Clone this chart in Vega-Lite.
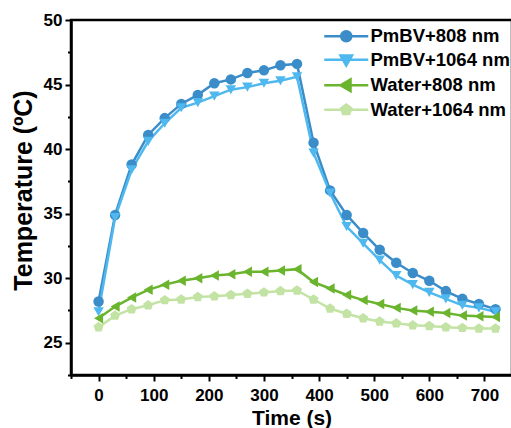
{
  "$schema": "https://vega.github.io/schema/vega-lite/v6.json",
  "autosize": {"type": "none"},
  "padding": {"left": 71, "top": 20, "right": 0, "bottom": 53},
  "width": 441,
  "height": 355,
  "background": "white",
  "config": {
    "view": {"stroke": "black", "strokeWidth": 2.5},
    "axis": {
      "grid": false,
      "domainColor": "black",
      "domainWidth": 2.5,
      "tickColor": "black",
      "tickWidth": 2,
      "labelColor": "black",
      "labelFont": "Liberation Sans",
      "labelFontWeight": "bold",
      "labelFontSize": 17,
      "titleFont": "Liberation Sans",
      "titleFontWeight": "bold",
      "titleColor": "black",
      "labelOverlap": false,
      "labelFlush": false
    }
  },
  "data": {
    "values": [
      {"t": 0, "T": 28.2, "s": "PmBV+808 nm"},
      {"t": 30, "T": 34.9, "s": "PmBV+808 nm"},
      {"t": 60, "T": 38.8, "s": "PmBV+808 nm"},
      {"t": 90, "T": 41.1, "s": "PmBV+808 nm"},
      {"t": 120, "T": 42.4, "s": "PmBV+808 nm"},
      {"t": 150, "T": 43.5, "s": "PmBV+808 nm"},
      {"t": 180, "T": 44.2, "s": "PmBV+808 nm"},
      {"t": 210, "T": 45.1, "s": "PmBV+808 nm"},
      {"t": 240, "T": 45.4, "s": "PmBV+808 nm"},
      {"t": 270, "T": 45.9, "s": "PmBV+808 nm"},
      {"t": 300, "T": 46.1, "s": "PmBV+808 nm"},
      {"t": 330, "T": 46.5, "s": "PmBV+808 nm"},
      {"t": 360, "T": 46.6, "s": "PmBV+808 nm"},
      {"t": 390, "T": 40.5, "s": "PmBV+808 nm"},
      {"t": 420, "T": 36.8, "s": "PmBV+808 nm"},
      {"t": 450, "T": 34.9, "s": "PmBV+808 nm"},
      {"t": 480, "T": 33.5, "s": "PmBV+808 nm"},
      {"t": 510, "T": 32.2, "s": "PmBV+808 nm"},
      {"t": 540, "T": 31.2, "s": "PmBV+808 nm"},
      {"t": 570, "T": 30.4, "s": "PmBV+808 nm"},
      {"t": 600, "T": 29.8, "s": "PmBV+808 nm"},
      {"t": 630, "T": 29.0, "s": "PmBV+808 nm"},
      {"t": 660, "T": 28.4, "s": "PmBV+808 nm"},
      {"t": 690, "T": 28.0, "s": "PmBV+808 nm"},
      {"t": 720, "T": 27.6, "s": "PmBV+808 nm"},
      {"t": 0, "T": 27.4, "s": "PmBV+1064 nm"},
      {"t": 30, "T": 34.7, "s": "PmBV+1064 nm"},
      {"t": 60, "T": 38.4, "s": "PmBV+1064 nm"},
      {"t": 90, "T": 40.6, "s": "PmBV+1064 nm"},
      {"t": 120, "T": 42.0, "s": "PmBV+1064 nm"},
      {"t": 150, "T": 43.2, "s": "PmBV+1064 nm"},
      {"t": 180, "T": 43.6, "s": "PmBV+1064 nm"},
      {"t": 210, "T": 44.1, "s": "PmBV+1064 nm"},
      {"t": 240, "T": 44.6, "s": "PmBV+1064 nm"},
      {"t": 270, "T": 44.8, "s": "PmBV+1064 nm"},
      {"t": 300, "T": 45.1, "s": "PmBV+1064 nm"},
      {"t": 330, "T": 45.3, "s": "PmBV+1064 nm"},
      {"t": 360, "T": 45.6, "s": "PmBV+1064 nm"},
      {"t": 390, "T": 39.7, "s": "PmBV+1064 nm"},
      {"t": 420, "T": 36.6, "s": "PmBV+1064 nm"},
      {"t": 450, "T": 34.0, "s": "PmBV+1064 nm"},
      {"t": 480, "T": 32.7, "s": "PmBV+1064 nm"},
      {"t": 510, "T": 31.4, "s": "PmBV+1064 nm"},
      {"t": 540, "T": 30.2, "s": "PmBV+1064 nm"},
      {"t": 570, "T": 29.5, "s": "PmBV+1064 nm"},
      {"t": 600, "T": 28.9, "s": "PmBV+1064 nm"},
      {"t": 630, "T": 28.4, "s": "PmBV+1064 nm"},
      {"t": 660, "T": 27.9, "s": "PmBV+1064 nm"},
      {"t": 690, "T": 27.7, "s": "PmBV+1064 nm"},
      {"t": 720, "T": 27.4, "s": "PmBV+1064 nm"},
      {"t": 0, "T": 26.9, "s": "Water+808 nm"},
      {"t": 30, "T": 27.8, "s": "Water+808 nm"},
      {"t": 60, "T": 28.5, "s": "Water+808 nm"},
      {"t": 90, "T": 29.1, "s": "Water+808 nm"},
      {"t": 120, "T": 29.5, "s": "Water+808 nm"},
      {"t": 150, "T": 29.8, "s": "Water+808 nm"},
      {"t": 180, "T": 30.0, "s": "Water+808 nm"},
      {"t": 210, "T": 30.2, "s": "Water+808 nm"},
      {"t": 240, "T": 30.3, "s": "Water+808 nm"},
      {"t": 270, "T": 30.5, "s": "Water+808 nm"},
      {"t": 300, "T": 30.5, "s": "Water+808 nm"},
      {"t": 330, "T": 30.6, "s": "Water+808 nm"},
      {"t": 360, "T": 30.7, "s": "Water+808 nm"},
      {"t": 390, "T": 29.7, "s": "Water+808 nm"},
      {"t": 420, "T": 29.2, "s": "Water+808 nm"},
      {"t": 450, "T": 28.7, "s": "Water+808 nm"},
      {"t": 480, "T": 28.3, "s": "Water+808 nm"},
      {"t": 510, "T": 28.0, "s": "Water+808 nm"},
      {"t": 540, "T": 27.7, "s": "Water+808 nm"},
      {"t": 570, "T": 27.5, "s": "Water+808 nm"},
      {"t": 600, "T": 27.4, "s": "Water+808 nm"},
      {"t": 630, "T": 27.3, "s": "Water+808 nm"},
      {"t": 660, "T": 27.1, "s": "Water+808 nm"},
      {"t": 690, "T": 27.05, "s": "Water+808 nm"},
      {"t": 720, "T": 27.0, "s": "Water+808 nm"},
      {"t": 0, "T": 26.2, "s": "Water+1064 nm"},
      {"t": 30, "T": 27.1, "s": "Water+1064 nm"},
      {"t": 60, "T": 27.6, "s": "Water+1064 nm"},
      {"t": 90, "T": 27.9, "s": "Water+1064 nm"},
      {"t": 120, "T": 28.3, "s": "Water+1064 nm"},
      {"t": 150, "T": 28.35, "s": "Water+1064 nm"},
      {"t": 180, "T": 28.55, "s": "Water+1064 nm"},
      {"t": 210, "T": 28.6, "s": "Water+1064 nm"},
      {"t": 240, "T": 28.7, "s": "Water+1064 nm"},
      {"t": 270, "T": 28.8, "s": "Water+1064 nm"},
      {"t": 300, "T": 28.9, "s": "Water+1064 nm"},
      {"t": 330, "T": 29.0, "s": "Water+1064 nm"},
      {"t": 360, "T": 29.05, "s": "Water+1064 nm"},
      {"t": 390, "T": 28.35, "s": "Water+1064 nm"},
      {"t": 420, "T": 27.65, "s": "Water+1064 nm"},
      {"t": 450, "T": 27.25, "s": "Water+1064 nm"},
      {"t": 480, "T": 26.9, "s": "Water+1064 nm"},
      {"t": 510, "T": 26.65, "s": "Water+1064 nm"},
      {"t": 540, "T": 26.5, "s": "Water+1064 nm"},
      {"t": 570, "T": 26.35, "s": "Water+1064 nm"},
      {"t": 600, "T": 26.3, "s": "Water+1064 nm"},
      {"t": 630, "T": 26.2, "s": "Water+1064 nm"},
      {"t": 660, "T": 26.15, "s": "Water+1064 nm"},
      {"t": 690, "T": 26.1, "s": "Water+1064 nm"},
      {"t": 720, "T": 26.1, "s": "Water+1064 nm"}
    ]
  },
  "encoding": {
    "x": {
      "field": "t",
      "type": "quantitative",
      "scale": {"domain": [-50, 750], "nice": false, "zero": false},
      "axis": {
        "title": "Time (s)",
        "titleFontSize": 21,
        "titleBaseline": "alphabetic",
        "titleY": 49,
        "values": [-50, 0, 50, 100, 150, 200, 250, 300, 350, 400, 450, 500, 550, 600, 650, 700, 750],
        "labelExpr": "datum.value % 100 === 0 ? format(datum.value, 'd') : ''",
        "tickSize": {"condition": {"test": "datum.value % 100 === 0", "value": 6}, "value": 3.5},
        "labelPadding": 6
      }
    },
    "y": {
      "field": "T",
      "type": "quantitative",
      "scale": {"domain": [22.5, 50], "nice": false, "zero": false},
      "axis": {
        "title": "Temperature (ºC)",
        "titleFontSize": 25,
        "titleBaseline": "alphabetic",
        "titleX": -40,
        "titleY": 170,
        "values": [22.5, 25, 27.5, 30, 32.5, 35, 37.5, 40, 42.5, 45, 47.5, 50],
        "labelExpr": "datum.value % 5 === 0 ? format(datum.value, 'd') : ''",
        "tickSize": {"condition": {"test": "datum.value % 5 === 0", "value": 6}, "value": 3.5},
        "labelPadding": 3
      }
    },
    "color": {
      "field": "s",
      "type": "nominal",
      "sort": ["PmBV+808 nm", "PmBV+1064 nm", "Water+808 nm", "Water+1064 nm"],
      "scale": {
        "domain": ["PmBV+808 nm", "PmBV+1064 nm", "Water+808 nm", "Water+1064 nm"],
        "range": ["#3a8dc8", "#4fb8ef", "#6ab42e", "#c2e3a4"]
      },
      "legend": {
        "title": null,
        "orient": "none",
        "legendX": 266,
        "legendY": 7,
        "padding": 0,
        "labelFont": "Liberation Sans",
        "labelFontWeight": "bold",
        "labelFontSize": 18.5,
        "labelColor": "black",
        "labelOffset": 15,
        "rowPadding": 3.5,
        "symbolSize": 100,
        "symbolStrokeWidth": 2.5,
        "encode": {
          "symbols": {
            "update": {
              "shape": {"signal": "datum.value === 'PmBV+808 nm' ? 'M-4.4,0H4.4M1,0A1,1,0,1,1,-1,0A1,1,0,1,1,1,0Z' : datum.value === 'PmBV+1064 nm' ? 'M-4.4,0H4.4M-1.15,-0.85L1.15,-0.85L0,1.15Z' : datum.value === 'Water+808 nm' ? 'M-4.4,0H4.4M-1.15,0L0.85,-1.15L0.85,1.15Z' : 'M-4.4,0H4.4M0,-1.05L1,-0.32L0.62,0.85L-0.62,0.85L-1,-0.32Z'"},
              "fill": {"scale": "color", "field": "value"},
              "stroke": {"scale": "color", "field": "value"},
              "strokeWidth": {"value": 2.5},
              "size": {"value": 100},
              "opacity": {"value": 1}
            }
          }
        }
      }
    }
  },
  "layer": [
    {
      "mark": {"type": "line", "strokeWidth": 2.5}
    },
    {
      "transform": [{"filter": "datum.s === 'PmBV+808 nm'"}],
      "mark": {"type": "point", "filled": true, "size": 110, "opacity": 1, "shape": "circle"}
    },
    {
      "transform": [{"filter": "datum.s === 'PmBV+1064 nm'"}],
      "mark": {"type": "point", "filled": true, "size": 110, "opacity": 1, "shape": "triangle-down"}
    },
    {
      "transform": [{"filter": "datum.s === 'Water+808 nm'"}],
      "mark": {"type": "point", "filled": true, "size": 110, "opacity": 1, "shape": "triangle-left"}
    },
    {
      "transform": [{"filter": "datum.s === 'Water+1064 nm'"}],
      "mark": {"type": "point", "filled": true, "size": 110, "opacity": 1, "shape": "M0,-1L0.951,-0.309L0.588,0.809L-0.588,0.809L-0.951,-0.309Z"}
    }
  ]
}
